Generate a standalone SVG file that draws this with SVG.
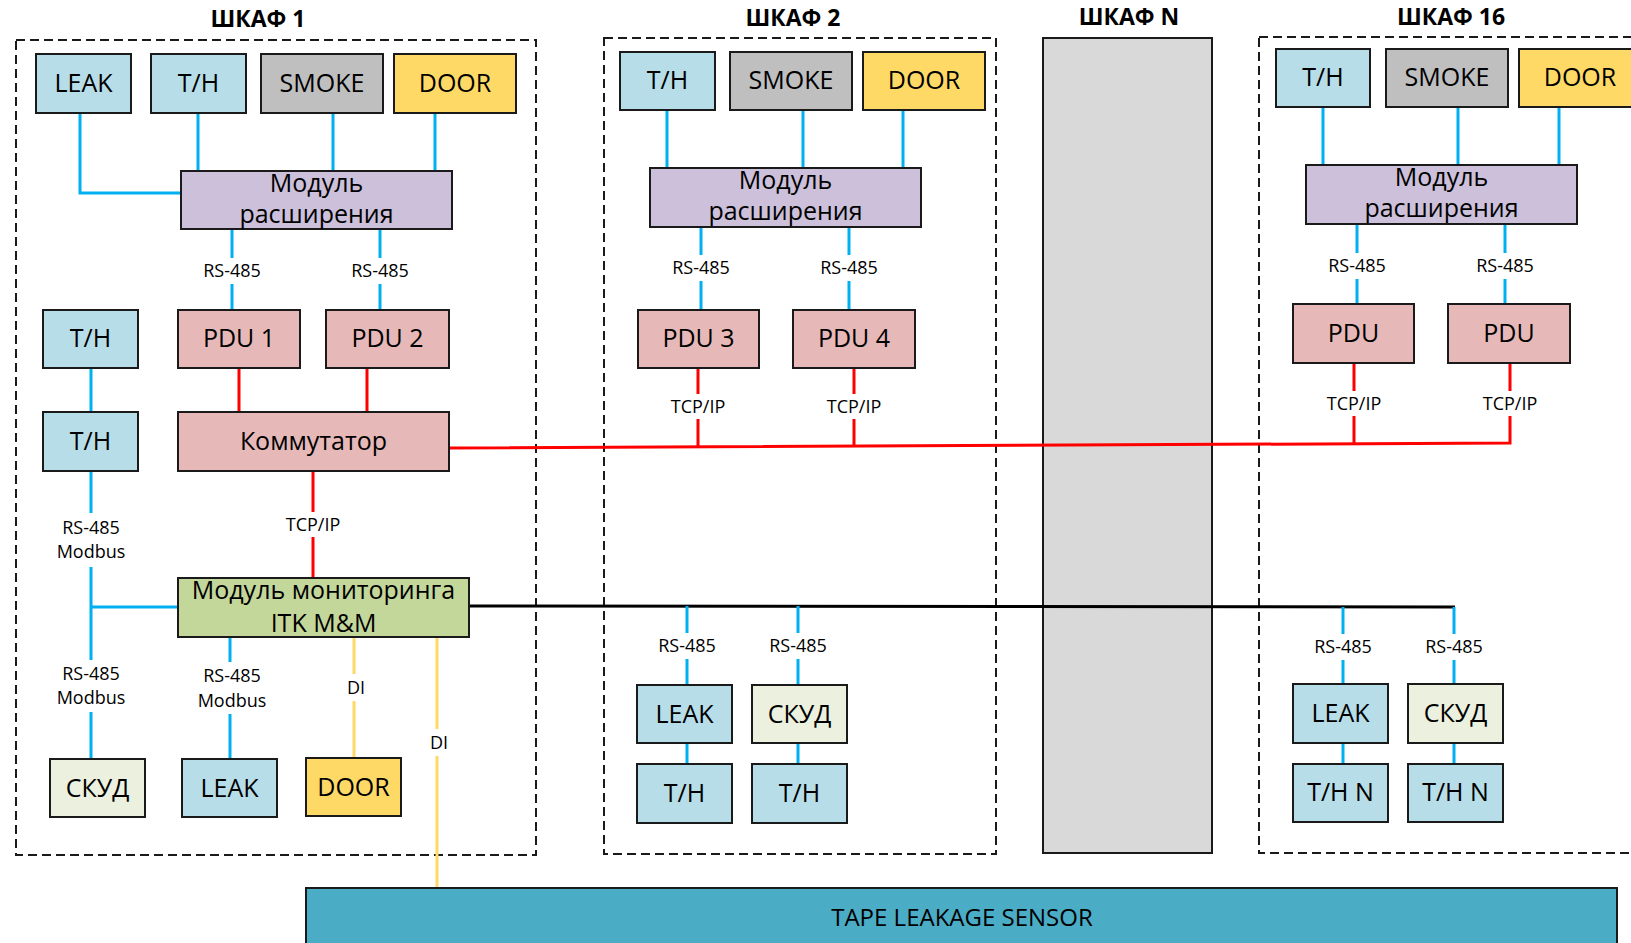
<svg xmlns="http://www.w3.org/2000/svg" width="1631" height="943" viewBox="0 0 1631 943">
<style>
.box{stroke:#1a1a1a;stroke-width:2}
.th{fill:#B7DEE8}.smoke{fill:#BFBFBF}.door{fill:#FFD966}.mod{fill:#CCC0DA}.pdu{fill:#E6B9B8}.mon{fill:#C4D79B}.skud{fill:#EBF1DE}.tape{fill:#4BACC6}.rack{fill:#D9D9D9}
.frame{fill:none;stroke:#1a1a1a;stroke-width:2;stroke-dasharray:9 5}
.t{font-family:"Open Sans","Noto Sans",sans-serif;font-size:25px;fill:#000;text-anchor:middle}
.lbl{font-family:"Open Sans","Noto Sans",sans-serif;font-size:18px;fill:#000;text-anchor:middle}
.title{font-family:"Open Sans","Noto Sans",sans-serif;font-weight:bold;font-size:23px;fill:#000;text-anchor:middle}
.b{stroke:#00B0F0;stroke-width:3;fill:none}
.r{stroke:#FF0000;stroke-width:3;fill:none}
.k{stroke:#000;stroke-width:3;fill:none}
.y{stroke:#FFD966;stroke-width:3;fill:none}
.bg{fill:#fff}
</style>

<g id="titles">
<text class="title" x="258" y="27">ШКАФ 1</text>
<text class="title" x="793" y="26">ШКАФ 2</text>
<text class="title" x="1129" y="25">ШКАФ N</text>
<text class="title" x="1451" y="25">ШКАФ 16</text>
</g>

<g id="cabinet1"><rect class="frame" x="16" y="40" width="520" height="815"/></g>
<g id="cabinet2"><rect class="frame" x="604" y="38" width="392" height="816"/></g>
<g id="cabinetN"><rect class="box rack" x="1043" y="38" width="169" height="815"/></g>
<g id="cabinet16"><rect class="frame" x="1259" y="37" width="400" height="816"/></g>

<g id="connectors">
<polyline class="b" points="80,113 80,193 181,193"/>
<line class="b" x1="198" y1="113" x2="198" y2="171"/>
<line class="b" x1="333" y1="113" x2="333" y2="171"/>
<line class="b" x1="435" y1="113" x2="435" y2="171"/>
<line class="b" x1="232" y1="229" x2="232" y2="310"/>
<line class="b" x1="380" y1="229" x2="380" y2="310"/>
<line class="b" x1="91" y1="368" x2="91" y2="412"/>
<line class="b" x1="91" y1="471" x2="91" y2="759"/>
<line class="b" x1="91" y1="607" x2="178" y2="607"/>
<line class="b" x1="230" y1="637" x2="230" y2="759"/>
<line class="y" x1="354" y1="637" x2="354" y2="758"/>
<line class="y" x1="437" y1="637" x2="437" y2="888"/>
<line class="r" x1="239" y1="368" x2="239" y2="412"/>
<line class="r" x1="367" y1="368" x2="367" y2="412"/>
<line class="r" x1="313" y1="471" x2="313" y2="578"/>
<polyline class="r" points="449,448 1510,443 1510,363"/>
<line class="r" x1="698" y1="368" x2="698" y2="446"/>
<line class="r" x1="854" y1="368" x2="854" y2="445"/>
<line class="r" x1="1354" y1="363" x2="1354" y2="443"/>
<line class="k" x1="469" y1="606" x2="1455" y2="607"/>
<line class="b" x1="667" y1="110" x2="667" y2="168"/>
<line class="b" x1="803" y1="110" x2="803" y2="168"/>
<line class="b" x1="903" y1="110" x2="903" y2="168"/>
<line class="b" x1="701" y1="227" x2="701" y2="310"/>
<line class="b" x1="849" y1="227" x2="849" y2="310"/>
<line class="b" x1="687" y1="606" x2="687" y2="685"/>
<line class="b" x1="798" y1="606" x2="798" y2="685"/>
<line class="b" x1="687" y1="743" x2="687" y2="764"/>
<line class="b" x1="798" y1="743" x2="798" y2="764"/>
<line class="b" x1="1323" y1="107" x2="1323" y2="165"/>
<line class="b" x1="1458" y1="107" x2="1458" y2="165"/>
<line class="b" x1="1559" y1="107" x2="1559" y2="165"/>
<line class="b" x1="1357" y1="224" x2="1357" y2="304"/>
<line class="b" x1="1505" y1="224" x2="1505" y2="304"/>
<line class="b" x1="1343" y1="607" x2="1343" y2="684"/>
<line class="b" x1="1454" y1="607" x2="1454" y2="684"/>
<line class="b" x1="1343" y1="743" x2="1343" y2="764"/>
<line class="b" x1="1454" y1="743" x2="1454" y2="764"/>

<rect class="bg" x="199" y="258" width="66" height="26"/><text class="lbl" x="232" y="277">RS-485</text>
<rect class="bg" x="347" y="258" width="66" height="26"/><text class="lbl" x="380" y="277">RS-485</text>
<rect class="bg" x="284" y="512" width="58" height="25"/><text class="lbl" x="313" y="531">TCP/IP</text>
<rect class="bg" x="53" y="513" width="76" height="54"/><text class="lbl" x="91" y="534">RS-485</text><text class="lbl" x="91" y="558">Modbus</text>
<rect class="bg" x="53" y="660" width="76" height="52"/><text class="lbl" x="91" y="680">RS-485</text><text class="lbl" x="91" y="704">Modbus</text>
<rect class="bg" x="194" y="662" width="76" height="52"/><text class="lbl" x="232" y="682">RS-485</text><text class="lbl" x="232" y="707">Modbus</text>
<rect class="bg" x="343" y="674" width="24" height="27"/><text class="lbl" x="356" y="694">DI</text>
<rect class="bg" x="426" y="729" width="24" height="27"/><text class="lbl" x="439" y="749">DI</text>
<rect class="bg" x="668" y="255" width="66" height="26"/><text class="lbl" x="701" y="274">RS-485</text>
<rect class="bg" x="816" y="255" width="66" height="26"/><text class="lbl" x="849" y="274">RS-485</text>
<rect class="bg" x="669" y="394" width="58" height="25"/><text class="lbl" x="698" y="413">TCP/IP</text>
<rect class="bg" x="825" y="394" width="58" height="25"/><text class="lbl" x="854" y="413">TCP/IP</text>
<rect class="bg" x="654" y="633" width="66" height="26"/><text class="lbl" x="687" y="652">RS-485</text>
<rect class="bg" x="765" y="633" width="66" height="26"/><text class="lbl" x="798" y="652">RS-485</text>
<rect class="bg" x="1324" y="253" width="66" height="26"/><text class="lbl" x="1357" y="272">RS-485</text>
<rect class="bg" x="1472" y="253" width="66" height="26"/><text class="lbl" x="1505" y="272">RS-485</text>
<rect class="bg" x="1325" y="391" width="58" height="25"/><text class="lbl" x="1354" y="410">TCP/IP</text>
<rect class="bg" x="1481" y="391" width="58" height="25"/><text class="lbl" x="1510" y="410">TCP/IP</text>
<rect class="bg" x="1310" y="634" width="66" height="26"/><text class="lbl" x="1343" y="653">RS-485</text>
<rect class="bg" x="1421" y="634" width="66" height="26"/><text class="lbl" x="1454" y="653">RS-485</text>
</g>

<g id="leak1"><rect class="box th" x="36" y="54" width="95" height="59"/><text class="t" x="83.5" y="92">LEAK</text></g>
<g id="th1"><rect class="box th" x="151" y="54" width="95" height="59"/><text class="t" x="198.5" y="92">T/H</text></g>
<g id="smoke1"><rect class="box smoke" x="261" y="54" width="122" height="59"/><text class="t" x="322" y="92">SMOKE</text></g>
<g id="door1"><rect class="box door" x="394" y="54" width="122" height="59"/><text class="t" x="455" y="92">DOOR</text></g>
<g id="mod1"><rect class="box mod" x="181" y="171" width="271" height="58"/><text class="t" x="316.5" y="192">Модуль</text><text class="t" x="316.5" y="223">расширения</text></g>
<g id="pdu1"><rect class="box pdu" x="178" y="310" width="122" height="58"/><text class="t" x="239" y="347">PDU 1</text></g>
<g id="pdu2"><rect class="box pdu" x="326" y="310" width="123" height="58"/><text class="t" x="387.5" y="347">PDU 2</text></g>
<g id="th1a"><rect class="box th" x="43" y="310" width="95" height="58"/><text class="t" x="90.5" y="347">T/H</text></g>
<g id="th1b"><rect class="box th" x="43" y="412" width="95" height="59"/><text class="t" x="90.5" y="450">T/H</text></g>
<g id="switch"><rect class="box pdu" x="178" y="412" width="271" height="59"/><text class="t" x="313.5" y="450">Коммутатор</text></g>
<g id="monitor"><rect class="box mon" x="178" y="578" width="291" height="59"/><text class="t" x="323.5" y="599">Модуль мониторинга</text><text class="t" x="323.5" y="632">ITK M&amp;M</text></g>
<g id="skud1"><rect class="box skud" x="50" y="759" width="95" height="58"/><text class="t" x="97.5" y="797">СКУД</text></g>
<g id="leak1b"><rect class="box th" x="182" y="759" width="95" height="58"/><text class="t" x="229.5" y="797">LEAK</text></g>
<g id="door1b"><rect class="box door" x="306" y="758" width="95" height="58"/><text class="t" x="353.5" y="796">DOOR</text></g>

<g id="th2"><rect class="box th" x="620" y="52" width="95" height="58"/><text class="t" x="667.5" y="89">T/H</text></g>
<g id="smoke2"><rect class="box smoke" x="730" y="52" width="122" height="58"/><text class="t" x="791" y="89">SMOKE</text></g>
<g id="door2"><rect class="box door" x="863" y="52" width="122" height="58"/><text class="t" x="924" y="89">DOOR</text></g>
<g id="mod2"><rect class="box mod" x="650" y="168" width="271" height="59"/><text class="t" x="785.5" y="189">Модуль</text><text class="t" x="785.5" y="220">расширения</text></g>
<g id="pdu3"><rect class="box pdu" x="638" y="310" width="121" height="58"/><text class="t" x="698.5" y="347">PDU 3</text></g>
<g id="pdu4"><rect class="box pdu" x="793" y="310" width="122" height="58"/><text class="t" x="854" y="347">PDU 4</text></g>
<g id="leak2"><rect class="box th" x="637" y="685" width="95" height="58"/><text class="t" x="684.5" y="723">LEAK</text></g>
<g id="skud2"><rect class="box skud" x="752" y="685" width="95" height="58"/><text class="t" x="799.5" y="723">СКУД</text></g>
<g id="th2a"><rect class="box th" x="637" y="764" width="95" height="59"/><text class="t" x="684.5" y="802">T/H</text></g>
<g id="th2b"><rect class="box th" x="752" y="764" width="95" height="59"/><text class="t" x="799.5" y="802">T/H</text></g>

<g id="th16"><rect class="box th" x="1276" y="49" width="94" height="58"/><text class="t" x="1323" y="86">T/H</text></g>
<g id="smoke16"><rect class="box smoke" x="1386" y="49" width="122" height="58"/><text class="t" x="1447" y="86">SMOKE</text></g>
<g id="door16"><rect class="box door" x="1519" y="49" width="122" height="58"/><text class="t" x="1580" y="86">DOOR</text></g>
<g id="mod16"><rect class="box mod" x="1306" y="165" width="271" height="59"/><text class="t" x="1441.5" y="186">Модуль</text><text class="t" x="1441.5" y="217">расширения</text></g>
<g id="pdu16a"><rect class="box pdu" x="1293" y="304" width="121" height="59"/><text class="t" x="1353.5" y="342">PDU</text></g>
<g id="pdu16b"><rect class="box pdu" x="1448" y="304" width="122" height="59"/><text class="t" x="1509" y="342">PDU</text></g>
<g id="leak16"><rect class="box th" x="1293" y="684" width="95" height="59"/><text class="t" x="1340.5" y="722">LEAK</text></g>
<g id="skud16"><rect class="box skud" x="1408" y="684" width="95" height="59"/><text class="t" x="1455.5" y="722">СКУД</text></g>
<g id="thn16a"><rect class="box th" x="1293" y="764" width="95" height="58"/><text class="t" x="1340.5" y="801">T/H N</text></g>
<g id="thn16b"><rect class="box th" x="1408" y="764" width="95" height="58"/><text class="t" x="1455.5" y="801">T/H N</text></g>

<g id="tape"><rect class="box tape" x="306" y="888" width="1311" height="70"/><text class="t" style="font-size:24px" x="962" y="926">TAPE LEAKAGE SENSOR</text></g>
</svg>
